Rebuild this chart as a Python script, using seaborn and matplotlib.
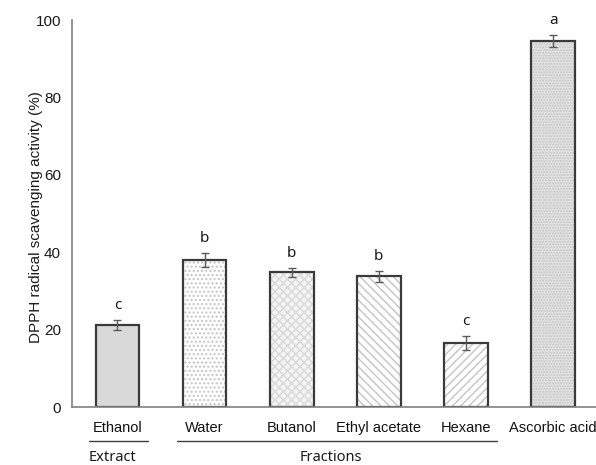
import matplotlib
matplotlib.use("Agg")
import matplotlib.pyplot as plt
import pandas as pd
import seaborn as sns
from matplotlib.patches import Rectangle
from matplotlib.transforms import blended_transform_factory

# DPPH radical scavenging activity of the ethanol extract, its fractions and the reference
samples = ["Ethanol", "Water", "Butanol", "Ethyl acetate", "Hexane", "Ascorbic acid"]
activity = [21.1, 38.0, 34.8, 33.8, 16.5, 94.6]
sd = [1.3, 1.9, 1.2, 1.4, 1.9, 1.6]
letters = ["c", "b", "b", "b", "c", "a"]

# grouping shown under the category labels
group_names = ["Extract", "Fractions"]
group_members = [["Ethanol"], ["Water", "Butanol", "Ethyl acetate", "Hexane"]]

yticks = [0, 20, 40, 60, 80, 100]

# fill styles
faces = ["#d9d9d9", "#ffffff", "#f4f4f4", "#ffffff", "#ffffff", "#e4e4e4"]
hatches = [None, "....", "xxxx", "\\\\\\\\", "////", "......"]
hatch_colors = [None, "#c4c4c4", "#d8d8d8", "#c4c4c4", "#c4c4c4", "#c4c4c4"]
edge_color = "#3a3a3a"
axis_color = "#808080"

sns.set_theme(style="white")
plt.rcParams["font.family"] = ["Liberation Sans", "DejaVu Sans"]
plt.rcParams["hatch.linewidth"] = 1.0

fig = plt.figure(figsize=(5.96, 4.65), dpi=100)
ax = fig.add_axes([72 / 596, 58 / 465, 524 / 596, 387 / 465])

df = pd.DataFrame({"sample": samples, "activity": activity})
sns.barplot(data=df, x="sample", y="activity", hue="sample", order=samples,
            hue_order=samples, palette=dict(zip(samples, faces)), saturation=1,
            width=0.5, errorbar=None, legend=False, ax=ax)

bars = sorted(ax.patches, key=lambda p: p.get_x())
for patch, h, hc in zip(bars, hatches, hatch_colors):
    patch.set_linewidth(0)
    if h:
        patch.set_hatch(h)
        patch.set_edgecolor(hc)
    # dark outline over the hatched fill
    ax.add_patch(Rectangle(patch.get_xy(), patch.get_width(), patch.get_height(),
                           fill=False, edgecolor=edge_color, linewidth=1.6,
                           zorder=patch.get_zorder() + 0.1))

pos = list(range(len(samples)))
ax.errorbar(pos, activity, yerr=sd, fmt="none", ecolor="#5a5a5a",
            elinewidth=1.0, capsize=3, capthick=1.0, zorder=4)

for x, v, e, lab in zip(pos, activity, sd, letters):
    ax.annotate(lab, (x, v + e), xytext=(0, 5), textcoords="offset points",
                ha="center", va="bottom", fontsize=11, family="Noto Sans",
                color="#1a1a1a")

ax.set_xlim(-0.52, 5.49)
ax.set_ylim(0, 100)
ax.set_yticks(yticks)
ax.set_xlabel("")
ax.set_ylabel("DPPH radical scavenging activity (%)", fontsize=11, color="#1a1a1a")
ax.yaxis.set_label_coords(-0.056, 0.49)

sns.despine(ax=ax)
for s in ("left", "bottom"):
    ax.spines[s].set_color(axis_color)
    ax.spines[s].set_linewidth(1.2)
ax.tick_params(axis="y", length=4, width=1, color=axis_color, labelsize=11,
               pad=4, labelcolor="#1a1a1a")
ax.tick_params(axis="x", length=0, pad=10, labelsize=10.5, labelcolor="#111111")

# group underlines and captions below the category labels
trans = blended_transform_factory(ax.transData, ax.transAxes)
for name, members in zip(group_names, group_members):
    idx = [samples.index(m) for m in members]
    lo, hi = min(idx) - 0.32, max(idx) + 0.35
    ax.plot([lo, hi], [-0.088, -0.088], transform=trans, color="#404040",
            linewidth=1.0, clip_on=False)
    ax.text((min(idx) + max(idx)) / 2 - 0.05, -0.13, name, transform=trans,
            ha="center", va="center", fontsize=10.5, family="Noto Sans",
            color="#1a1a1a")

fig.savefig("out.png", dpi=100)
